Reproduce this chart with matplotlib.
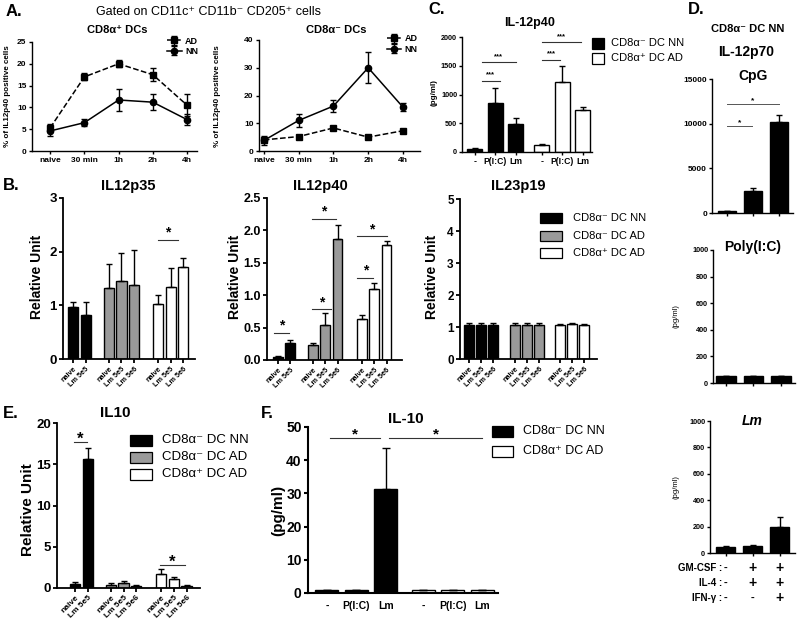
import numpy as np
import matplotlib
matplotlib.use('Agg')
import matplotlib.pyplot as plt
from matplotlib.patches import Rectangle

plt.rcParams['font.family'] = ['Liberation Sans', 'DejaVu Sans']
plt.rcParams['font.weight'] = 'bold'

W, H = 797, 625
fig = plt.figure(figsize=(W / 100, H / 100), dpi=100)

# ---------------- data ----------------
timepoints = ['naive', '30 min', '1h', '2h', '4h']
a_pos_AD = [5.3, 17.0, 20.0, 17.5, 10.5]
a_pos_AD_err = [0.8, 0.8, 0.8, 1.5, 2.5]
a_pos_NN = [4.6, 6.5, 11.7, 11.2, 7.2]
a_pos_NN_err = [1.2, 0.8, 2.5, 1.9, 1.3]
a_neg_AD = [4.0, 5.2, 8.3, 5.0, 7.3]
a_neg_AD_err = [0.6, 0.4, 0.5, 0.5, 0.5]
a_neg_NN = [3.8, 11.0, 16.2, 30.0, 15.8]
a_neg_NN_err = [1.5, 2.2, 2.3, 5.5, 1.5]

labels_nn = ['naive', 'Lm 5e5']
labels_ad = ['naive', 'Lm 5e5', 'Lm 5e6']

p35_nn = [0.97, 0.82]
p35_nn_err = [0.09, 0.24]
p35_neg_ad = [1.32, 1.45, 1.37]
p35_neg_ad_err = [0.45, 0.53, 0.67]
p35_pos_ad = [1.02, 1.34, 1.71]
p35_pos_ad_err = [0.18, 0.36, 0.18]

p40_nn = [0.05, 0.27]
p40_nn_err = [0.01, 0.04]
p40_neg_ad = [0.23, 0.54, 1.86]
p40_neg_ad_err = [0.03, 0.18, 0.23]
p40_pos_ad = [0.63, 1.10, 1.77]
p40_pos_ad_err = [0.07, 0.09, 0.06]

p19_labels_nn = ['naive', 'Lm 5e5', 'Lm 5e6']
p19_nn = [1.06, 1.06, 1.06]
p19_nn_err = [0.05, 0.05, 0.05]
p19_neg_ad = [1.06, 1.06, 1.06]
p19_neg_ad_err = [0.05, 0.05, 0.05]
p19_pos_ad = [1.06, 1.08, 1.06]
p19_pos_ad_err = [0.03, 0.03, 0.03]

il10_nn = [0.52, 15.6]
il10_nn_err = [0.16, 1.4]
il10_neg_ad = [0.36, 0.60, 0.20]
il10_neg_ad_err = [0.24, 0.20, 0.12]
il10_pos_ad = [1.73, 1.13, 0.28]
il10_pos_ad_err = [0.57, 0.20, 0.08]

stim_labels = ['-', 'P(I:C)', 'Lm']
c_neg_nn = [47, 845, 484]
c_neg_nn_err = [23, 263, 99]
c_pos_ad = [128, 1210, 729]
c_pos_ad_err = [6, 278, 47]

d_cpg = [190, 2460, 10150]
d_cpg_err = [0, 340, 780]
d_polyic = [50, 50, 50]
d_polyic_err = [0, 0, 0]
d_lm = [45, 55, 196]
d_lm_err = [5, 5, 76]
cond_names = ['GM-CSF :', 'IL-4 :', 'IFN-γ :']
cond_gmcsf = ['-', '+', '+']
cond_il4 = ['-', '+', '+']
cond_ifng = ['-', '-', '+']

f_neg_nn = [1.0, 1.0, 31.4]
f_neg_nn_err = [0, 0, 12.3]
f_pos_ad = [1.0, 1.0, 1.0]
f_pos_ad_err = [0, 0, 0]

# significance annotations (x1, x2, y) in data coordinates
sig_p35 = [(6.75, 8.3, 2.22)]
sig_p40 = [(-0.3, 0.9, 0.42), (2.7, 4.3, 0.78), (2.7, 4.7, 2.18), (6.4, 7.7, 1.27), (6.4, 8.75, 1.91)]
sig_il10 = [(-0.1, 0.95, 17.7), (6.75, 8.75, 2.8)]
sig_c = [(0.34, 1.22, 1243), (0.34, 2.0, 1564), (3.27, 4.15, 1604), (3.27, 5.17, 1908)]
sig_cpg = [(0.0, 0.95, 9740), (0.0, 2.0, 12200)]
sig_f = [(0.1, 1.8, 46.7), (2.1, 5.27, 46.7)]

BLACK, GRAY, WHITE = '#000000', '#9a9a9a', '#ffffff'


# ---------------- helpers ----------------
def px_axes(x0, x1, ytop, ybot):
    return fig.add_axes([x0 / W, 1 - ybot / H, (x1 - x0) / W, (ybot - ytop) / H])


def style(ax, lw=1.3, tl=3, fs=8):
    for s in ['top', 'right']:
        ax.spines[s].set_visible(False)
    for s in ['left', 'bottom']:
        ax.spines[s].set_linewidth(lw)
    ax.tick_params(direction='out', width=lw, length=tl, pad=1.5)
    ax.tick_params(axis='y', labelsize=fs)
    for lab in ax.get_yticklabels():
        lab.set_fontweight('bold')


def ftext(x, y, s, **kw):
    kw.setdefault('ha', 'center')
    kw.setdefault('va', 'center')
    fig.text(x / W, 1 - y / H, s, **kw)


def bars(ax, pos, vals, errs, color, width, lw=1.0, cap=2):
    ax.bar(pos, vals, width, color=color, edgecolor='black', linewidth=lw, zorder=2)
    ax.errorbar(pos, vals, yerr=[np.zeros(len(vals)), errs], fmt='none', ecolor='black',
                elinewidth=1.0, capsize=cap, capthick=1.0, zorder=3)


def sig(ax, items, star='*', fs=10, dy=0.0, lw=0.8, color='#333333'):
    for x1, x2, y in items:
        ax.plot([x1, x2], [y, y], color=color, lw=lw, clip_on=False)
        ax.text((x1 + x2) / 2, y + dy, star, ha='center', va='bottom', fontsize=fs,
                fontweight='bold', clip_on=False)


def legend_px(x, ys, labels, colors, pw, ph, fs, tx):
    for y, lab, col in zip(ys, labels, colors):
        fig.add_artist(Rectangle(((x) / W, 1 - (y + ph / 2) / H), pw / W, ph / H,
                                 facecolor=col, edgecolor='black', linewidth=0.9,
                                 transform=fig.transFigure))
        ftext(tx, y, lab, ha='left', fontsize=fs, fontweight='normal')


def positions(sizes, starts):
    out = []
    for n, s in zip(sizes, starts):
        out.append([s + i for i in range(n)])
    return out


lab_nn = 'CD8α⁻ DC NN'
lab_negad = 'CD8α⁻ DC AD'
lab_posad = 'CD8α⁺ DC AD'

# ---------------- Panel A ----------------
ftext(14, 12, 'A.', fontsize=12, fontweight='bold')
ftext(208, 12, 'Gated on CD11c⁺ CD11b⁻ CD205⁺ cells', fontsize=9, fontweight='normal')

for (x0, x1, ylim, yt, ttl, ad, ade, nn, nne, xl, tx, ylx, lg) in [
        (32, 197, 25, range(0, 26, 5), 'CD8α⁺ DCs', a_pos_AD, a_pos_AD_err, a_pos_NN, a_pos_NN_err,
         (-0.53, 4.29), 117, 8, (1.04, 1.1)),
        (259, 420, 40, range(0, 41, 10), 'CD8α⁻ DCs', a_neg_AD, a_neg_AD_err, a_neg_NN, a_neg_NN_err,
         (-0.14, 4.49), 336, 217, (1.02, 1.1))]:
    ytop = 42 if ylim == 25 else 40
    ax = px_axes(x0, x1, ytop, 151)
    x = np.arange(len(timepoints))
    ax.errorbar(x, ad, yerr=ade, color='black', ls='--', lw=1.1, marker='s', ms=4.5,
                capsize=2.5, elinewidth=1, label='AD', clip_on=False, zorder=3)
    ax.errorbar(x, nn, yerr=nne, color='black', ls='-', lw=1.1, marker='o', ms=4.5,
                capsize=2.5, elinewidth=1, label='NN', clip_on=False, zorder=3)
    ax.set_xlim(*xl)
    ax.set_ylim(0, ylim)
    ax.set_yticks(list(yt))
    style(ax, lw=1.0, tl=2.5, fs=6)
    ax.set_xticks(x)
    ax.set_xticklabels(timepoints, fontsize=6, fontweight='bold')
    leg = ax.legend(loc='upper right', bbox_to_anchor=lg, frameon=False, fontsize=6.5,
                    handlelength=1.6, handletextpad=0.4, labelspacing=0.15, borderpad=0.1)
    for t in leg.get_texts():
        t.set_fontweight('bold')
    ftext(tx, 30, ttl, fontsize=8, fontweight='bold')
    ftext(ylx, 96, '% of IL12p40 positive cells', rotation=90, fontsize=5.8, fontweight='bold')

# ---------------- Panel B ----------------
ftext(11, 185, 'B.', fontsize=12, fontweight='bold')

b_specs = [
    (63, 195, 198, 359, (-0.79, 9.68), 3, [0, 1, 2, 3], '%d', [0, 2.85, 6.75],
     [(p35_nn, p35_nn_err, labels_nn), (p35_neg_ad, p35_neg_ad_err, labels_ad),
      (p35_pos_ad, p35_pos_ad_err, labels_ad)], 'IL12p35', 128, 37, sig_p35, 9.5),
    (267, 402, 198, 360, (-0.89, 10.0), 2.5, [0, 0.5, 1.0, 1.5, 2.0, 2.5], '%.1f', [0, 2.8, 6.75],
     [(p40_nn, p40_nn_err, labels_nn), (p40_neg_ad, p40_neg_ad_err, labels_ad),
      (p40_pos_ad, p40_pos_ad_err, labels_ad)], 'IL12p40', 320, 235, sig_p40, 9),
    (460, 597, 199, 359, (-0.75, 10.67), 5, [0, 1, 2, 3, 4, 5], '%d', [0, 3.85, 7.6],
     [(p19_nn, p19_nn_err, p19_labels_nn), (p19_neg_ad, p19_neg_ad_err, labels_ad),
      (p19_pos_ad, p19_pos_ad_err, labels_ad)], 'IL23p19', 518, 432, [], 8.5),
]
for (x0, x1, yt, yb, xl, ymax, ticks, fmt, starts, groups, ttl, tx, ylx, sg, tfs) in b_specs:
    ax = px_axes(x0, x1, yt, yb)
    pos = positions([len(g[0]) for g in groups], starts)
    allpos, alllab = [], []
    for p, (v, e, labs), col in zip(pos, groups, [BLACK, GRAY, WHITE]):
        bars(ax, p, v, e, col, 0.8, cap=2)
        allpos += p
        alllab += labs
    ax.set_xlim(*xl)
    ax.set_ylim(0, ymax)
    ax.set_yticks(ticks)
    ax.set_yticklabels([fmt % t for t in ticks])
    style(ax, lw=1.3, tl=3, fs=tfs)
    ax.set_xticks(allpos)
    ax.set_xticklabels(alllab, rotation=45, ha='right', rotation_mode='anchor',
                       fontsize=5.2, fontweight='bold')
    sig(ax, sg, fs=10)
    ftext(tx, 186, ttl, fontsize=10.5, fontweight='bold')
    ftext(ylx, 277, 'Relative Unit', rotation=90, fontsize=10, fontweight='bold')

legend_px(540, [218, 236, 253], [lab_nn, lab_negad, lab_posad], [BLACK, GRAY, WHITE],
          22, 10, 8, 573)

# ---------------- Panel C ----------------
ftext(437, 10, 'C.', fontsize=12, fontweight='bold')
ax = px_axes(462, 592, 37, 152)
pc = positions([3, 3], [0, 3.27])
bars(ax, pc[0], c_neg_nn, c_neg_nn_err, BLACK, 0.73, cap=2)
bars(ax, pc[1], c_pos_ad, c_pos_ad_err, WHITE, 0.73, cap=2)
ax.set_xlim(-0.63, 5.71)
ax.set_ylim(0, 2000)
ax.set_yticks([0, 500, 1000, 1500, 2000])
style(ax, lw=1.0, tl=2, fs=5.2)
ax.set_xticks(pc[0] + pc[1])
ax.set_xticklabels(stim_labels + stim_labels, fontsize=6.2, fontweight='bold')
sig(ax, sig_c, star='***', fs=5.5, dy=40)
ftext(530, 23, 'IL-12p40', fontsize=9, fontweight='bold')
ftext(434, 93, '(pg/ml)', rotation=90, fontsize=5.8, fontweight='bold')
legend_px(592, [43, 58], [lab_nn, lab_posad], [BLACK, WHITE], 12, 11, 8, 611)

# ---------------- Panel D ----------------
ftext(696, 10, 'D.', fontsize=12, fontweight='bold')
ftext(748, 29, 'CD8α⁻ DC NN', fontsize=8, fontweight='bold')
ftext(746, 52, 'IL-12p70', fontsize=10, fontweight='bold')

d_specs = [
    (712, 793, 79, 213, (-0.58, 2.54), 15000, [0, 5000, 10000, 15000], d_cpg, d_cpg_err,
     'CpG', 753, 76, 'normal', sig_cpg, 6),
    (713, 795, 250, 383, (-0.47, 2.51), 1000, [0, 200, 400, 600, 800, 1000], d_polyic, d_polyic_err,
     'Poly(I:C)', 753, 247, 'normal', [], 5.2),
    (710, 795, 421, 553, (-0.59, 2.56), 1000, [0, 200, 400, 600, 800, 1000], d_lm, d_lm_err,
     'Lm', 752, 421, 'italic', [], 5.2),
]
for (x0, x1, yt, yb, xl, ymax, ticks, vals, errs, ttl, tx, ty, sty, sg, tfs) in d_specs:
    ax = px_axes(x0, x1, yt, yb)
    p = np.arange(len(vals))
    bars(ax, p, vals, errs, BLACK, 0.7, cap=2.5)
    ax.set_xlim(*xl)
    ax.set_ylim(0, ymax)
    ax.set_yticks(ticks)
    style(ax, lw=1.0, tl=2, fs=tfs)
    ax.set_xticks(p)
    ax.set_xticklabels([])
    sig(ax, sg, fs=6, lw=0.7, color='#555555')
    ftext(tx, ty, ttl, fontsize=10, fontweight='bold', style=sty)
    if ttl != 'CpG':
        ftext(676, (yt + yb) / 2, '(pg/ml)', rotation=90, fontsize=5.5, fontweight='normal')
    if ttl == 'Lm':
        for row, (name, signs) in enumerate(zip(cond_names, [cond_gmcsf, cond_il4, cond_ifng])):
            yy = 568 + row * 15
            ftext(722, yy, name, ha='right', fontsize=7, fontweight='bold')
            for xi, s in zip(p, signs):
                ax.text(xi, -(yy - yb) / (yb - yt), s, transform=ax.get_xaxis_transform(),
                        ha='center', va='center', fontsize=10 if s == '+' else 8,
                        fontweight='bold')

# ---------------- Panel E ----------------
ftext(11, 414, 'E.', fontsize=12, fontweight='bold')
ax = px_axes(57, 200, 423, 588)
pe = positions([2, 3, 3], [0, 2.85, 6.85])
bars(ax, pe[0], il10_nn, il10_nn_err, BLACK, 0.8, cap=2)
bars(ax, pe[1], il10_neg_ad, il10_neg_ad_err, GRAY, 0.8, cap=2)
bars(ax, pe[2], il10_pos_ad, il10_pos_ad_err, WHITE, 0.8, cap=2)
ax.set_xlim(-1.43, 9.92)
ax.set_ylim(0, 20)
ax.set_yticks([0, 5, 10, 15, 20])
style(ax, lw=1.3, tl=3, fs=9.5)
ax.set_xticks(pe[0] + pe[1] + pe[2])
ax.set_xticklabels(labels_nn + labels_ad + labels_ad, rotation=45, ha='right',
                   rotation_mode='anchor', fontsize=6, fontweight='bold')
sig(ax, sig_il10, fs=12, dy=-0.6)
ftext(115, 413, 'IL10', fontsize=11, fontweight='bold')
ftext(28, 510, 'Relative Unit', rotation=90, fontsize=11, fontweight='bold')
legend_px(130, [440, 457, 474], [lab_nn, lab_negad, lab_posad], [BLACK, GRAY, WHITE],
          22, 11, 9.5, 162)

# ---------------- Panel F ----------------
ftext(267, 414, 'F.', fontsize=12, fontweight='bold')
ax = px_axes(308, 498, 427, 593)
pf = positions([3, 3], [0, 3.27])
bars(ax, pf[0], f_neg_nn, f_neg_nn_err, BLACK, 0.78, cap=3)
bars(ax, pf[1], f_pos_ad, f_pos_ad_err, WHITE, 0.78, cap=3)
ax.set_xlim(-0.64, 5.8)
ax.set_ylim(0, 50)
ax.set_yticks([0, 10, 20, 30, 40, 50])
style(ax, lw=1.5, tl=3, fs=10)
ax.set_xticks(pf[0] + pf[1])
ax.set_xticklabels(stim_labels + stim_labels, fontsize=7.5, fontweight='bold')
ax.tick_params(axis='x', length=0, pad=6)
sig(ax, sig_f, fs=11, dy=-1.2)
ftext(406, 419, 'IL-10', fontsize=11, fontweight='bold')
ftext(278, 510, '(pg/ml)', rotation=90, fontsize=11, fontweight='bold')
legend_px(492, [431, 451], [lab_nn, lab_posad], [BLACK, WHITE], 21, 11, 9, 523)

fig.savefig('out.png', dpi=100)
